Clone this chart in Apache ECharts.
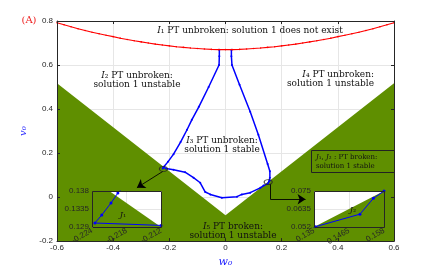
<!DOCTYPE html>
<html><head><meta charset="utf-8">
<script src="https://cdn.jsdelivr.net/npm/echarts@6/dist/echarts.min.js"></script>
<style>html,body{margin:0;padding:0;background:#fff}#c{width:436px;height:273px}</style>
</head><body><div id="c"></div>
<script>
// ---- data ----
const xTicks = [-0.6, -0.4, -0.2, 0, 0.2, 0.4, 0.6];
const yTicks = [-0.2, 0, 0.2, 0.4, 0.6, 0.8];
const boundaryW = [-0.6, 0, 0.6];
const boundaryV = [0.517, -0.083, 0.517];
const redW = [-0.6,-0.575,-0.55,-0.525,-0.5,-0.475,-0.45,-0.425,-0.4,-0.375,-0.35,-0.325,-0.3,-0.275,-0.25,-0.225,-0.2,-0.175,-0.15,-0.125,-0.1,-0.075,-0.05,-0.025,0,
  0.025,0.05,0.075,0.1,0.125,0.15,0.175,0.2,0.225,0.25,0.275,0.3,0.325,0.35,0.375,0.4,0.425,0.45,0.475,0.5,0.525,0.55,0.575,0.6];
const redV = [0.792,0.783,0.774,0.765,0.757,0.749,0.742,0.735,0.729,0.722,0.716,0.710,0.705,0.700,0.695,0.691,0.687,0.683,0.680,0.677,0.675,0.673,0.671,0.670,0.670,
  0.670,0.671,0.673,0.675,0.677,0.680,0.683,0.687,0.691,0.695,0.700,0.705,0.710,0.716,0.722,0.729,0.735,0.742,0.749,0.757,0.765,0.774,0.783,0.792];
const blueW = [-0.022,-0.022,-0.023,-0.060,-0.095,-0.120,-0.137,-0.160,-0.185,-0.205,-0.2195,-0.2207,-0.2223,-0.2235,
  -0.212,-0.185,-0.144,-0.114,-0.090,-0.072,-0.054,-0.013,0.041,0.058,0.088,0.124,0.1355,0.1501,0.1545,0.158,
  0.158,0.158,0.150,0.117,0.088,0.050,0.023,0.021,0.021];
const blueV = [0.669,0.640,0.600,0.500,0.410,0.351,0.306,0.250,0.195,0.160,0.1375,0.135,0.132,0.130,
  0.1294,0.124,0.113,0.088,0.065,0.023,0.012,-0.003,0.002,0.012,0.020,0.042,0.0522,0.0602,0.0703,0.075,
  0.088,0.117,0.150,0.283,0.388,0.510,0.600,0.640,0.669];
const j1XTicks = [-0.224, -0.218, -0.212];
const j1YTicks = [0.129, 0.1335, 0.138];
const j2XTicks = [0.135, 0.1465, 0.158];
const j2YTicks = [0.052, 0.0635, 0.075];
const markW = [-0.221, 0.152];
const markV = [0.128, 0.068];
const arrow1W = [-0.2228, -0.3155];
const arrow1V = [0.117, 0.0424];
const arrow2W = [0.160, 0.160, 0.285];
const arrow2V = [0.060, -0.010, -0.010];

// ---- chart ----
const pairs = (xs, ys) => xs.map((x, i) => [x, ys[i]]);
const SERIF = 'DejaVu Serif';
const SANS = 'Liberation Sans';
const AX = '#262626';
const GREEN = '#5f8f00';
const G0 = {left: 57, top: 21, width: 337, height: 221};
const G1 = {left: 92, top: 191, width: 69, height: 36};
const G2 = {left: 314, top: 191, width: 70, height: 36};

const frameAxis = (extra) => Object.assign({
  type: 'value', gridIndex: 0, z: 10,
  axisLine: {show: true, onZero: false, lineStyle: {color: AX, width: 1}},
  axisTick: {show: true, inside: true, length: 3, lineStyle: {color: AX}},
  axisLabel: {show: false},
  splitLine: {show: false}
}, extra);
const gridAxis = (extra) => Object.assign({
  type: 'value', gridIndex: 0, z: 0,
  axisLine: {show: false}, axisTick: {show: false}, axisLabel: {show: false},
  splitLine: {show: true, lineStyle: {color: '#e6e6e6', width: 1}}
}, extra);
const insetAxis = (extra, ticks, isX) => Object.assign({
  type: 'value', z: 4,
  axisLine: {show: false}, axisTick: {show: false, customValues: ticks},
  axisLabel: {show: true, customValues: ticks, fontFamily: SANS, fontSize: 8, color: AX,
    margin: 3, rotate: isX ? 30 : 0},
  splitLine: {show: true, lineStyle: {color: '#e6e6e6', width: 1}}
}, extra);

const xMin = xTicks[0], xMax = xTicks[xTicks.length - 1];
const yMin = yTicks[0], yMax = yTicks[yTicks.length - 1];

const option = {
  animation: false,
  backgroundColor: '#fff',
  grid: [
    Object.assign({}, G0),
    Object.assign({show: true, backgroundColor: '#fff', borderWidth: 0, z: 3}, G1),
    Object.assign({show: true, backgroundColor: '#fff', borderWidth: 0, z: 3}, G2)
  ],
  xAxis: [
    frameAxis({position: 'bottom', min: xMin, max: xMax, interval: 0.2,
      axisLabel: {show: true, fontFamily: SANS, fontSize: 8, color: AX, margin: 3},
      name: '{w|w₀}', nameLocation: 'middle', nameGap: 12,
      nameTextStyle: {rich: {w: {fontFamily: SERIF, fontStyle: 'italic', fontSize: 11, color: '#1a1aff'}}}}),
    frameAxis({position: 'top', min: xMin, max: xMax, interval: 0.2}),
    gridAxis({min: xMin, max: xMax, interval: 0.2}),
    insetAxis({gridIndex: 1, min: j1XTicks[0], max: j1XTicks[2]}, j1XTicks, true),
    insetAxis({gridIndex: 2, min: j2XTicks[0], max: j2XTicks[2]}, j2XTicks, true)
  ],
  yAxis: [
    frameAxis({position: 'left', min: yMin, max: yMax, interval: 0.2,
      axisLabel: {show: true, fontFamily: SANS, fontSize: 8, color: AX, margin: 4},
      name: '{v|v₀}', nameLocation: 'middle', nameGap: 20, nameRotate: 90,
      nameTextStyle: {rich: {v: {fontFamily: SERIF, fontStyle: 'italic', fontSize: 10, color: '#1a1aff'}}}}),
    frameAxis({position: 'right', min: yMin, max: yMax, interval: 0.2}),
    gridAxis({min: yMin, max: yMax, interval: 0.2}),
    insetAxis({gridIndex: 1, min: j1YTicks[0], max: j1YTicks[2]}, j1YTicks, false),
    insetAxis({gridIndex: 2, min: j2YTicks[0], max: j2YTicks[2]}, j2YTicks, false)
  ],
  series: [
    // main
    {type: 'line', xAxisIndex: 0, yAxisIndex: 0, data: pairs(boundaryW, boundaryV), showSymbol: false,
      lineStyle: {width: 0}, areaStyle: {color: GREEN, opacity: 1, origin: 'start'}, z: 2, silent: true},
    {type: 'line', xAxisIndex: 0, yAxisIndex: 0, data: pairs(blueW, blueV), symbol: 'circle', symbolSize: 2,
      showSymbol: true, itemStyle: {color: '#0000ff'}, lineStyle: {color: '#0000ff', width: 1.5}, z: 2.5},
    {type: 'line', xAxisIndex: 0, yAxisIndex: 0, data: pairs(redW, redV), symbol: 'circle', symbolSize: 1.6,
      showSymbol: true, itemStyle: {color: '#ff0000'}, lineStyle: {color: '#ff0000', width: 1.1}, z: 2.6},
    {type: 'scatter', xAxisIndex: 0, yAxisIndex: 0, data: pairs(markW, markV), symbol: 'circle', symbolSize: [8, 5],
      itemStyle: {color: 'rgba(0,0,0,0)', borderColor: '#222', borderWidth: 1}, z: 7},
    {type: 'lines', coordinateSystem: 'cartesian2d', xAxisIndex: 0, yAxisIndex: 0, polyline: false,
      symbol: ['none', 'arrow'], symbolSize: 8, lineStyle: {color: '#000', width: 0.9, opacity: 1},
      data: [{coords: pairs(arrow1W, arrow1V)}, {coords: pairs(arrow2W.slice(1), arrow2V.slice(1))}], z: 7},
    {type: 'lines', coordinateSystem: 'cartesian2d', xAxisIndex: 0, yAxisIndex: 0, polyline: false,
      symbol: ['none', 'none'], lineStyle: {color: '#000', width: 0.9, opacity: 1},
      data: [{coords: pairs(arrow2W.slice(0, 2), arrow2V.slice(0, 2))}], z: 7},
    // inset J1
    {type: 'line', xAxisIndex: 3, yAxisIndex: 3, data: pairs(boundaryW, boundaryV), showSymbol: false,
      lineStyle: {width: 0}, areaStyle: {color: GREEN, opacity: 1, origin: 'start'}, z: 5, clip: true, silent: true},
    {type: 'line', xAxisIndex: 3, yAxisIndex: 3, data: pairs(blueW, blueV), symbol: 'circle', symbolSize: 3,
      showSymbol: true, itemStyle: {color: '#0000ff'}, lineStyle: {color: '#0000ff', width: 1}, z: 6, clip: true},
    // inset J2
    {type: 'line', xAxisIndex: 4, yAxisIndex: 4, data: pairs(boundaryW, boundaryV), showSymbol: false,
      lineStyle: {width: 0}, areaStyle: {color: GREEN, opacity: 1, origin: 'start'}, z: 5, clip: true, silent: true},
    {type: 'line', xAxisIndex: 4, yAxisIndex: 4, data: pairs(blueW, blueV), symbol: 'circle', symbolSize: 3,
      showSymbol: true, itemStyle: {color: '#0000ff'}, lineStyle: {color: '#0000ff', width: 1}, z: 6, clip: true}
  ],
  graphic: []
};

const rich = (size, lh) => ({i: {fontFamily: SERIF, fontStyle: 'italic', fontSize: size, fill: '#111', lineHeight: lh}});
const txt = (x, y, text, align, size, lh) => ({
  type: 'text', x: x, y: y, z: 60,
  style: {text: text, fontFamily: SERIF, fontSize: size, fill: '#111', align: align, verticalAlign: 'middle',
    lineHeight: lh, rich: rich(size, lh)}
});
const border = (g) => ({type: 'rect', z: 55, shape: {x: g.left + 0.5, y: g.top + 0.5, width: g.width, height: g.height},
  style: {fill: 'none', stroke: AX, lineWidth: 1}});

option.graphic = [
  border(G1), border(G2),
  {type: 'rect', z: 50, shape: {x: 311.5, y: 150.5, width: 83, height: 22},
    style: {fill: GREEN, stroke: '#222', lineWidth: 1}},
  {type: 'text', x: 316, y: 161.5, z: 60, style: {text: '{i|J}₁, {i|J}₂ : PT broken:\nsolution 1 stable', fontFamily: SERIF,
    fontSize: 7, fill: '#111', align: 'left', verticalAlign: 'middle', lineHeight: 8.5, rich: rich(7, 8.5)}},
  txt(250, 31, '{i|I}₁ PT unbroken: solution 1 does not exist', 'center', 9, 9),
  txt(137, 80, '{i|I}₂ PT unbroken:\nsolution 1 unstable', 'center', 9, 9),
  txt(374, 79, '{i|I}₄ PT unbroken:\nsolution 1 unstable', 'right', 9, 9),
  txt(222, 145, '{i|I}₃ PT unbroken:\nsolution 1 stable', 'center', 9, 9),
  txt(233, 231.5, '{i|I}₅ PT broken:\nsolution 1 unstable', 'center', 9, 9),
  txt(123, 215, '{i|J}₁', 'center', 8, 9),
  txt(353, 210, '{i|J}₂', 'center', 8, 9),
  {type: 'text', x: 29, y: 20, z: 60, style: {text: '(A)', fontFamily: SERIF, fontSize: 10, fill: '#ee2020',
    align: 'center', verticalAlign: 'middle'}}
];

const chart = echarts.init(document.getElementById('c'), null, {renderer: 'canvas'});
chart.setOption(option);
</script>
</body></html>
